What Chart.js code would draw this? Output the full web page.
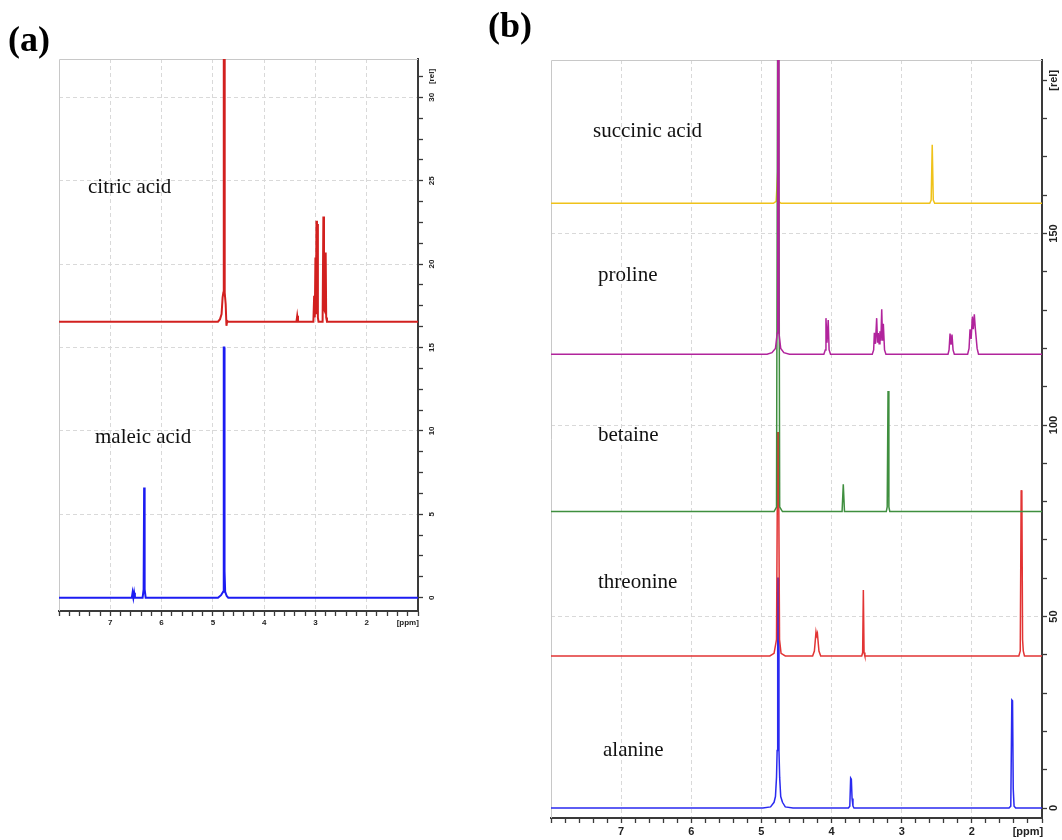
<!DOCTYPE html>
<html>
<head>
<meta charset="utf-8">
<script src="https://cdn.jsdelivr.net/npm/chart.js@4.4.1/dist/chart.umd.min.js"></script>
<style>
  body { margin: 0; background: #fff; width: 1062px; height: 840px; position: relative; overflow: hidden; }
  canvas { position: absolute; top: 0; }
  #chartA { left: 0; }
  #chartB { left: 500px; }
  .tag { position: absolute; font-family: "Liberation Serif", serif; font-weight: bold; font-size: 36px; line-height: 36px; color: #000; }
  .name { position: absolute; font-family: "Liberation Serif", serif; font-size: 21px; line-height: 21px; color: #111; white-space: nowrap; }
</style>
</head>
<body>
<canvas id="chartA" width="470" height="650"></canvas>
<canvas id="chartB" width="562" height="840"></canvas>

<div class="tag" style="left:8px;top:21px">(a)</div>
<div class="tag" style="left:488px;top:7px">(b)</div>

<div class="name" style="left:88px;top:176px">citric acid</div>
<div class="name" style="left:95px;top:426px">maleic acid</div>
<div class="name" style="left:593px;top:120px">succinic acid</div>
<div class="name" style="left:598px;top:264px">proline</div>
<div class="name" style="left:598px;top:424px">betaine</div>
<div class="name" style="left:598px;top:571px">threonine</div>
<div class="name" style="left:603px;top:739px">alanine</div>

<script>
// ---- panel (a) traces: chemical shift [ppm] / intensity [rel] ----
const citricPpm = [8.0, 4.90, 4.86, 4.83, 4.81, 4.795, 4.787, 4.78, 4.773, 4.765, 4.75, 4.735, 4.72, 4.70,
  3.37, 3.355, 3.34, 3.04, 3.025, 3.012, 3.0, 2.99, 2.98, 2.97, 2.962, 2.952, 2.94,
  2.86, 2.845, 2.833, 2.82, 2.80, 2.79, 2.775, 1.0];
const citricRel = [16.55, 16.55, 16.7, 17.0, 18.0, 18.3, 40, 40, 18.2, 18.3, 17.6, 16.3, 16.6, 16.55,
  16.55, 16.9, 16.55, 16.55, 18.1, 16.8, 20.4, 17.0, 22.6, 17.6, 22.4, 16.8, 16.55,
  16.55, 22.85, 17.3, 17.2, 20.7, 16.8, 16.55, 16.55];

const maleicPpm = [8.0, 6.58, 6.565, 6.55, 6.535, 6.52, 6.37, 6.35, 6.34, 6.33, 6.31,
  4.90, 4.84, 4.80, 4.79, 4.785, 4.777, 4.772, 4.76, 4.73, 4.70, 1.0];
const maleicRel = [0, 0, 0.3, 0, 0.3, 0, 0, 0.5, 6.6, 0.5, 0,
  0, 0.15, 0.35, 1.6, 15, 15, 1.6, 0.35, 0.1, 0, 0];

// ---- panel (b) traces ----
const succinicPpm = [8.0, 4.83, 4.79, 4.768, 4.757, 4.72, 2.60, 2.58, 2.565, 2.55, 2.53, 1.0];
const succinicRel = [157.9, 157.9, 158.4, 166, 158.4, 157.9, 157.9, 158.7, 173.2, 158.7, 157.9, 157.9];

const prolinePpm = [8.0, 4.92, 4.85, 4.80, 4.775, 4.767, 4.758, 4.75, 4.725, 4.68, 4.60,
  4.11, 4.09, 4.08, 4.065, 4.048, 4.035, 4.015,
  3.42, 3.40, 3.39, 3.375, 3.357, 3.345, 3.334, 3.322, 3.31, 3.297, 3.285, 3.273, 3.262, 3.245, 3.225,
  2.34, 2.325, 2.311, 2.297, 2.283, 2.268, 2.25,
  2.06, 2.04, 2.026, 2.01, 1.993, 1.98, 1.965, 1.952, 1.941, 1.925, 1.905, 1.0];
const prolineRel = [118.5, 118.5, 118.9, 120, 124, 220, 220, 124, 120, 118.9, 118.5,
  118.5, 119.6, 127.9, 121.5, 127.4, 119.6, 118.5,
  118.5, 119.6, 124.1, 121.2, 127.9, 121.5, 124, 121.2, 124.5, 122, 130.2, 122, 126.4, 119.6, 118.5,
  118.5, 119.6, 123.9, 121, 123.6, 119.6, 118.5,
  118.5, 120, 125, 122.5, 128.3, 125, 128.9, 125.5, 125.5, 120, 118.5, 118.5];

const betainePpm = [8.0, 4.82, 4.785, 4.767, 4.757, 4.74, 4.70, 3.85, 3.833, 3.816,
  3.22, 3.207, 3.195, 3.183, 3.17, 1.0];
const betaineRel = [77.4, 77.4, 78.6, 220, 220, 78.6, 77.4, 77.4, 84.5, 77.4,
  77.4, 78.6, 108.9, 78.6, 77.4, 77.4];

const threoninePpm = [8.0, 4.88, 4.82, 4.785, 4.768, 4.758, 4.742, 4.72, 4.66,
  4.27, 4.245, 4.222, 4.212, 4.202, 4.18, 4.155,
  3.57, 3.557, 3.547, 3.537, 3.525,
  1.33, 1.31, 1.297, 1.287, 1.277, 1.267, 1.25, 1.0];
const threonineRel = [39.7, 39.7, 40.4, 44, 98, 98, 44, 40.4, 39.7,
  39.7, 41, 46, 45, 45.6, 41, 39.7,
  39.7, 40.6, 56.9, 40.6, 39.7,
  39.7, 41, 83, 82, 44, 41, 39.7, 39.7];

const alaninePpm = [8.0, 4.98, 4.87, 4.82, 4.80, 4.785, 4.776, 4.768, 4.758, 4.75, 4.74, 4.725, 4.70, 4.66, 4.55,
  3.76, 3.74, 3.728, 3.718, 3.708, 3.695, 3.68,
  1.47, 1.445, 1.43, 1.42, 1.41, 1.398, 1.375, 1.0];
const alanineRel = [0, 0, 0.3, 1.5, 3, 8, 15, 60, 60, 15, 8, 3, 1.5, 0.3, 0,
  0, 0.5, 7.8, 7.5, 2.5, 0.5, 0,
  0, 0.5, 28.2, 28, 5, 0.5, 0, 0];

// ---- axis ticks ----
const ppmMajor = [2, 3, 4, 5, 6, 7];
const aRelMajor = [0, 5, 10, 15, 20, 25, 30];
const bRelMajor = [0, 50, 100, 150];

function trace(ppm, rel) {
  return ppm.map((p, i) => ({ x: p, y: rel[i] }));
}

function near(a, b) { return Math.abs(a - b) < 1e-6; }

function ppmLabel(v) {
  if (near(v, 1.2)) return '[ppm]';
  const m = ppmMajor.find(p => near(p, v));
  return m !== undefined ? String(m) : '';
}

function relTicks(step, top) {
  const t = [];
  for (let i = 0; i * step <= top + 1e-6; i++) t.push({ value: +(i * step).toFixed(2) });
  return t;
}

const frame = {
  id: 'frame',
  beforeDatasetsDraw(chart) {
    const { ctx, chartArea: a } = chart;
    ctx.save();
    ctx.strokeStyle = '#c8c8c8';
    ctx.lineWidth = 1;
    ctx.beginPath();
    ctx.moveTo(a.left + 0.5, a.bottom);
    ctx.lineTo(a.left + 0.5, a.top + 0.5);
    ctx.lineTo(a.right, a.top + 0.5);
    ctx.stroke();
    ctx.restore();
  }
};

function makeChart(id, cfg) {
  const datasets = cfg.series.map(s => ({
    data: trace(s.ppm, s.rel),
    borderColor: s.color,
    borderWidth: cfg.lineWidth,
    pointRadius: 0,
    tension: 0,
    fill: false,
  }));

  return new Chart(document.getElementById(id), {
    type: 'scatter',
    data: { datasets: datasets.map(d => ({ ...d, showLine: true })) },
    options: {
      responsive: false,
      animation: false,
      events: [],
      layout: { padding: { left: cfg.padLeft, top: cfg.padTop, right: 0, bottom: 0 } },
      plugins: { legend: { display: false }, tooltip: { enabled: false } },
      scales: {
        x: {
          type: 'linear',
          reverse: true,
          min: 1,
          max: 8,
          afterFit: (s) => { s.height = cfg.xHeight; },
          border: { color: '#3a3a3a', width: 2, dash: [4, 3] },
          grid: {
            color: (c) => ppmMajor.some(p => near(p, c.tick.value)) ? '#d9d9d9' : 'rgba(0,0,0,0)',
            tickColor: '#3a3a3a',
            tickLength: cfg.tickLen,
            tickWidth: 1.3,
          },
          ticks: {
            stepSize: 0.2,
            autoSkip: false,
            maxRotation: 0,
            padding: 2,
            color: '#222',
            font: { family: 'Liberation Sans', size: cfg.fontSize, weight: 'bold' },
            callback: ppmLabel,
          },
        },
        y: {
          position: 'right',
          min: cfg.yMin,
          max: cfg.yMax,
          afterFit: (s) => { s.width = cfg.yWidth; },
          afterBuildTicks: (s) => { s.ticks = relTicks(cfg.relStep, cfg.relTop); },
          border: { color: '#3a3a3a', width: 2, dash: [4, 3] },
          grid: {
            color: (c) => (c.tick.value > 0 && cfg.relMajor.includes(c.tick.value)) ? '#d9d9d9' : 'rgba(0,0,0,0)',
            tickColor: '#3a3a3a',
            tickLength: cfg.tickLen,
            tickWidth: 1.3,
          },
          ticks: {
            autoSkip: false,
            minRotation: 90,
            maxRotation: 90,
            crossAlign: 'center',
            padding: cfg.yPad,
            color: '#222',
            font: { family: 'Liberation Sans', size: cfg.fontSize, weight: 'bold' },
            callback: (v) => {
              if (near(v, cfg.relTop)) return '[rel]';
              return cfg.relMajor.includes(v) ? String(v) : '';
            },
          },
        },
      },
    },
    plugins: [frame],
  });
}

makeChart('chartA', {
  padLeft: 59, padTop: 59, xHeight: 39, yWidth: 52,
  yMin: -0.8, yMax: 32.3, relStep: 1.25, relTop: 31.25, relMajor: aRelMajor,
  tickLen: 5, fontSize: 8, yPad: 1, lineWidth: 2,
  series: [
    { ppm: citricPpm, rel: citricRel, color: '#d2201f' },
    { ppm: maleicPpm, rel: maleicRel, color: '#1c1cf2' },
  ],
});

makeChart('chartB', {
  padLeft: 51, padTop: 60, xHeight: 22, yWidth: 20,
  yMin: -2.6, yMax: 195.3, relStep: 10, relTop: 190, relMajor: bRelMajor,
  tickLen: 5, fontSize: 11, yPad: -3, lineWidth: 1.5,
  series: [
    { ppm: prolinePpm, rel: prolineRel, color: '#b1249c' },
    { ppm: betainePpm, rel: betaineRel, color: '#3f8f3f' },
    { ppm: threoninePpm, rel: threonineRel, color: '#e23434' },
    { ppm: alaninePpm, rel: alanineRel, color: '#2a2af0' },
    { ppm: succinicPpm, rel: succinicRel, color: '#efc21a' },
  ],
});
</script>
</body>
</html>
